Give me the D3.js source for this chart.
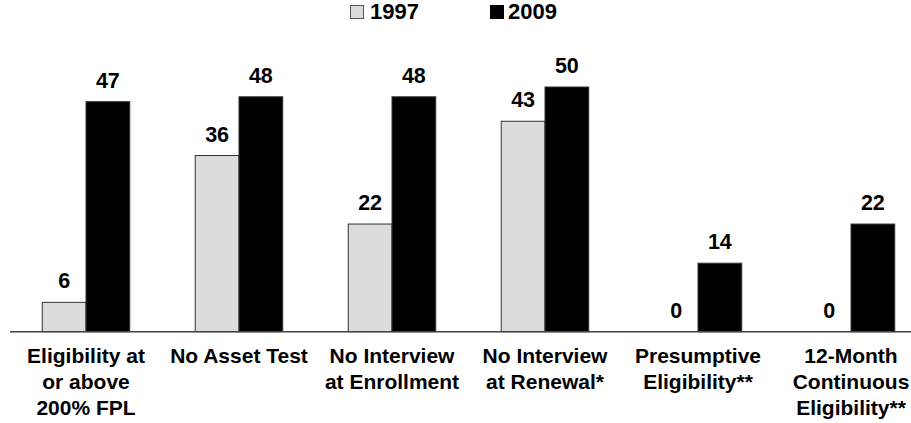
<!DOCTYPE html>
<html>
<head>
<meta charset="utf-8">
<script src="https://cdn.jsdelivr.net/npm/d3@7"></script>
<style>
  html, body { margin: 0; padding: 0; background: #fff; }
  svg { display: block; font-family: "Liberation Sans", Arial, Helvetica, sans-serif; font-weight: bold; }
</style>
</head>
<body>
<svg id="chart" width="911" height="423"></svg>
<script>
const categories = [
  ["Eligibility at", "or above", "200% FPL"],
  ["No Asset Test"],
  ["No Interview", "at Enrollment"],
  ["No Interview", "at Renewal*"],
  ["Presumptive", "Eligibility**"],
  ["12-Month", "Continuous", "Eligibility**"]
];
const seriesNames = ["1997", "2009"];
const values1997 = [6, 36, 22, 43, 0, 0];
const values2009 = [47, 48, 48, 50, 14, 22];

const W = 911, H = 423;
const svg = d3.select("#chart");
const baseY = 331.7;

const x = d3.scaleBand()
  .domain(d3.range(categories.length))
  .range([9.5, 9.5 + 153 * categories.length])
  .paddingInner(0).paddingOuter(0);

const xs = d3.scaleBand()
  .domain(seriesNames)
  .range([(153 - 87.5) / 2, (153 + 87.5) / 2])
  .padding(0);

const y = d3.scaleLinear().domain([0, 50]).range([baseY, baseY - 244.7]);

const colors = { "1997": "#dcdcdc", "2009": "#000000" };
const data = categories.map((c, i) => ({ i, vals: [values1997[i], values2009[i]] }));

const groups = svg.append("g").selectAll("g")
  .data(data).join("g")
  .attr("transform", d => `translate(${x(d.i)},0)`);

groups.selectAll("rect")
  .data(d => d.vals.map((v, k) => ({ s: seriesNames[k], v })))
  .join("rect")
  .attr("x", d => xs(d.s))
  .attr("y", d => y(d.v))
  .attr("width", xs.bandwidth())
  .attr("height", d => baseY - y(d.v))
  .attr("fill", d => colors[d.s])
  .attr("stroke", d => d.v > 0 ? "#333" : "none")
  .attr("stroke-width", 1);

groups.selectAll("text.val")
  .data(d => d.vals.map((v, k) => ({ s: seriesNames[k], v })))
  .join("text")
  .attr("class", "val")
  .attr("x", d => xs(d.s) + xs.bandwidth() / 2)
  .attr("y", d => y(d.v) - 14)
  .attr("text-anchor", "middle")
  .attr("font-size", 21.5)
  .attr("fill", "#000")
  .text(d => d.v);

// baseline axis
const xAxis = d3.axisBottom(x).tickSize(0).tickFormat("");
const axG = svg.append("g").attr("transform", `translate(0,${baseY})`).call(xAxis);
axG.select(".domain").remove();
svg.append("line")
  .attr("x1", 10).attr("x2", W)
  .attr("y1", baseY).attr("y2", baseY)
  .attr("stroke", "#444").attr("stroke-width", 1.4);

// category labels
const labels = svg.append("g").selectAll("text")
  .data(data).join("text")
  .attr("text-anchor", "middle")
  .attr("font-size", 21)
  .attr("fill", "#000");
labels.each(function(d) {
  const t = d3.select(this);
  categories[d.i].forEach((line, j) => {
    t.append("tspan")
      .attr("x", x(d.i) + x.bandwidth() / 2)
      .attr("y", 363 + j * 26)
      .text(line);
  });
});

// legend
const legendX = [350, 490];
const lg = svg.append("g").selectAll("g")
  .data(seriesNames).join("g")
  .attr("transform", (d, i) => `translate(${legendX[i]},0)`);
lg.append("rect")
  .attr("x", 0.5).attr("y", 5.5)
  .attr("width", 13).attr("height", 13)
  .attr("fill", d => colors[d])
  .attr("stroke", d => d === "1997" ? "#555" : "#000")
  .attr("stroke-width", 1);
lg.append("text")
  .attr("x", d => d === "1997" ? 20 : 18)
  .attr("y", 18.5)
  .attr("font-size", 22)
  .attr("fill", "#000")
  .text(d => d);
</script>
</body>
</html>
